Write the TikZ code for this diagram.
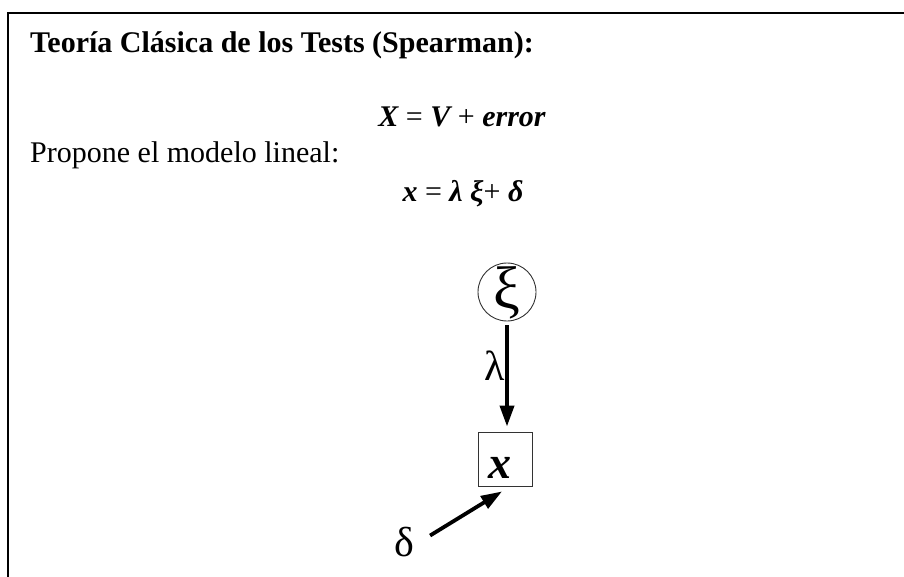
\documentclass[tikz,border=0pt]{standalone}
\usepackage{fontspec}
\setmainfont{Liberation Serif}
\usetikzlibrary{arrows.meta}
\begin{document}
\begin{tikzpicture}[x=1pt,y=-1pt,
  frame/.style={line width=2.5pt},
  conn/.style={line width=3.8pt,-{Triangle[length=21pt,width=14pt]}},
  txt/.style={inner sep=0pt,font=\fontsize{30}{36}\selectfont},
  bigsym/.style={inner sep=0pt,font=\fontsize{42}{48}\selectfont},
  thinline/.style={line width=0.9pt,draw=black!80},
]
\useasboundingbox (0,0) rectangle (904,577);
\draw[frame] (904,13) -- (8,13) -- (8,577);

\node[txt,anchor=base west] (title) at (30,53) {\bfseries Teoría Clásica de los Tests (Spearman):};
\node[txt,anchor=base] (eq1) at (462,127) {{\bfseries\itshape X} = {\bfseries\itshape V} + {\bfseries\itshape error}};
\node[txt,anchor=base west] (prop) at (30,163) {Propone el modelo lineal:};
\node[txt,anchor=base] (eq2) at (463,202) {{\bfseries\itshape x} = {\bfseries\itshape λ ξ}+ {\bfseries\itshape δ}};

\node[circle,thinline,draw,minimum size=58pt,inner sep=0pt] (xi) at (507,292) {};
\node[inner sep=0pt,font=\fontsize{60}{64}\selectfont] (xilabel) at ([yshift=-1pt]xi.center) {ξ};

\node[thinline,draw,minimum size=54pt,inner sep=0pt] (x) at (505,459) {};
\node[inner sep=0pt,anchor=base,font=\fontsize{46}{50}\selectfont\bfseries\itshape] (xlabel) at (500,478) {x};

\draw[conn,shorten <=4pt,shorten >=5pt] (xi.south) -- (xi.south |- x.north);
\node[bigsym,anchor=base] (lam) at (495,380) {λ};

\node[bigsym,anchor=base] (d) at (404,556) {δ};
\coordinate (dtip) at ([xshift=-3pt,yshift=-5pt]x.south);
\draw[conn] ([xshift=16pt,yshift=6pt]d.east) -- (dtip);
\end{tikzpicture}
\end{document}
